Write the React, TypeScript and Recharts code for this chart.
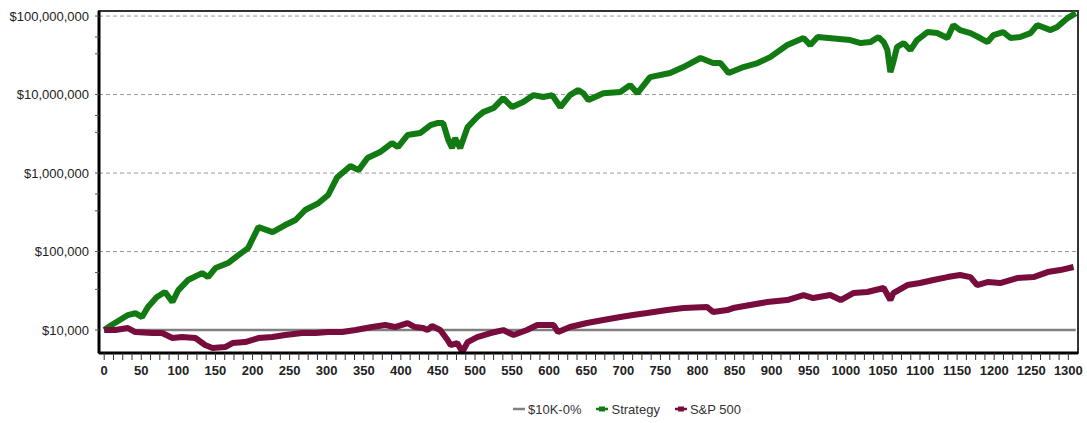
import { CartesianGrid, Legend, Line, LineChart, ReferenceArea, ReferenceLine, XAxis, YAxis } from "recharts"

// day index -> account value ($), read off the reference
const strategyX = [
  0, 10, 32, 42, 51, 59, 71, 82, 92, 100, 113, 132, 140, 150, 167, 181, 194, 208, 227, 244, 258, 271, 289,
  302, 314, 332, 343, 355, 372, 388, 396, 409, 426, 440, 449, 457, 464, 469, 473, 480, 490, 503, 511, 525,
  538, 550, 565, 579, 592, 604, 615, 628, 639, 646, 653, 673, 696, 709, 719, 736, 763, 781, 804, 821, 831,
  842, 862, 881, 898, 921, 943, 952, 962, 1006, 1020, 1033, 1044, 1051, 1056, 1060, 1064, 1069, 1078, 1087,
  1096, 1110, 1123, 1137, 1145, 1154, 1168, 1181, 1191, 1199, 1212, 1222, 1235, 1249, 1258, 1276, 1285,
  1299, 1310,
]
const strategyY = [
  10000, 11580, 15530, 16460, 14640, 19630, 26330, 30500, 22740, 32330, 43350, 53200, 47300, 61600, 71400,
  90200, 110800, 205000, 177000, 217600, 252000, 338000, 415000, 525000, 880000, 1230000, 1090000, 1553000,
  1850000, 2410000, 2140000, 3050000, 3230000, 4090000, 4340000, 4340000, 2630000, 2080000, 2790000,
  2080000, 3850000, 5170000, 5980000, 6730000, 9020000, 6930000, 8030000, 9850000, 9300000, 9850000,
  6930000, 9850000, 11400000, 10400000, 8500000, 10400000, 10800000, 13200000, 10400000, 16700000,
  18800000, 22400000, 29200000, 25200000, 25200000, 18800000, 22400000, 25200000, 30000000, 42700000,
  52500000, 42700000, 54000000, 49500000, 45300000, 46600000, 54000000, 46600000, 36900000, 19300000,
  25900000, 40300000, 45300000, 36900000, 49500000, 62600000, 60700000, 52500000, 76800000, 66300000,
  60700000, 52500000, 46700000, 57300000, 62600000, 52500000, 54000000, 60700000, 76800000, 66300000,
  72400000, 94300000, 109000000,
]

const spxX = [
  0, 15, 32, 42, 65, 78, 92, 105, 123, 136, 146, 163, 173, 190, 208, 227, 244, 267, 285, 302, 321, 339, 361,
  379, 392, 409, 419, 430, 436, 442, 453, 463, 467, 476, 483, 490, 503, 521, 538, 552, 570, 584, 606, 612,
  628, 651, 673, 696, 713, 732, 759, 781, 813, 821, 840, 848, 871, 894, 921, 943, 956, 979, 993, 1010, 1029,
  1051, 1060, 1064, 1083, 1100, 1118, 1137, 1154, 1168, 1177, 1191, 1208, 1231, 1253, 1272, 1289, 1307,
]
const spxY = [
  10000, 10000, 10600, 9430, 9160, 9160, 7910, 8140, 7910, 6440, 5900, 6070, 6830, 7030, 7910, 8140, 8640,
  9160, 9160, 9430, 9430, 10000, 10920, 11580, 10920, 12280, 10920, 10600, 10000, 11250, 10000, 7460, 6440,
  6830, 5250, 7030, 8140, 9160, 10000, 8640, 10000, 11580, 11580, 9430, 10920, 12280, 13410, 14640, 15530,
  16460, 17980, 19060, 19630, 16960, 17980, 19060, 20820, 22740, 24100, 27900, 25560, 27900, 24100, 29600,
  30500, 34300, 24100, 29600, 37400, 39700, 43350, 47300, 50200, 47300, 37400, 40900, 39700, 46000, 47300,
  54800, 58100, 63500,
]

const flatX = [0, 1310]
const flatY = [10000, 10000]

const xLabels = [0, 50, 100, 150, 200, 250, 300, 350, 400, 450, 500, 550, 600, 650, 700, 750, 800, 850, 900, 950, 1000, 1050, 1100, 1150, 1200, 1250, 1300]
const yLabels = [10000, 100000, 1000000, 10000000, 100000000]

const xTicks = xLabels.flatMap((v) => (v < 1300 ? [v, v + 12.5, v + 25, v + 37.5] : [v]))
const yTicks = yLabels.flatMap((v) => (v > 10000 ? [v * 0.33, v * 0.54, v] : [v]))

const toPoints = (xs: number[], ys: number[]) => xs.map((x, i) => ({ x, v: ys[i] }))

const seriesInfo = [
  { name: "$10K-0%", color: "#808080", marker: false },
  { name: "Strategy", color: "#127a12", marker: true },
  { name: "S&P 500", color: "#780c3c", marker: true },
]

const font = "'Liberation Sans', Arial, sans-serif"

function XTick({ x, y, payload }: any) {
  if (payload.value % 50 !== 0) return null
  return (
    <text x={x} y={y + 13} textAnchor="middle" fontSize={13} fontWeight="bold" fill="#222" fontFamily={font}>
      {payload.value}
    </text>
  )
}

function YTick({ x, y, payload }: any) {
  if (!yLabels.includes(payload.value)) return null
  return (
    <text x={x} y={y + 4.5} textAnchor="end" fontSize={13} fill="#222" fontFamily={font}>
      ${payload.value.toLocaleString("en-US")}
    </text>
  )
}

function LegendBox() {
  return (
    <div style={{ display: "flex", paddingLeft: 513, height: 22, alignItems: "center", fontFamily: font, fontSize: 13, color: "#333" }}>
      {seriesInfo.map((s) => (
        <div key={s.name} style={{ display: "flex", alignItems: "center", marginRight: 15 }}>
          <svg width={12} height={10} style={{ marginRight: 3 }}>
            <line x1={0} y1={5} x2={12} y2={5} stroke={s.color} strokeWidth={2.5} />
            {s.marker && <rect x={3} y={2.5} width={6} height={5} fill={s.color} />}
          </svg>
          <span>{s.name}</span>
        </div>
      ))}
    </div>
  )
}

export default function App() {
  return (
    <div style={{ position: "absolute", left: 0, top: 0, background: "#fff" }}>
      <LineChart width={1087} height={423} margin={{ top: 11, right: 9, left: 0, bottom: 3 }}>
        <CartesianGrid horizontal={false} vertical={false} />
        <XAxis
          dataKey="x"
          type="number"
          domain={[-7, 1313]}
          ticks={xTicks}
          interval={0}
          allowDataOverflow
          tick={<XTick />}
          tickSize={7}
          tickLine={{ stroke: "#333" }}
          axisLine={{ stroke: "#000", strokeWidth: 3 }}
          height={45}
        />
        <YAxis
          dataKey="v"
          scale="log"
          type="number"
          domain={[5100, 116000000]}
          ticks={yTicks}
          interval={0}
          allowDataOverflow
          tick={<YTick />}
          tickSize={4}
          tickMargin={6}
          tickLine={{ stroke: "#555" }}
          axisLine={{ stroke: "#000", strokeWidth: 3 }}
          width={99}
        />
        <ReferenceArea x1={-7} x2={1313} y1={5100} y2={116000000} fill="none" stroke="#333" strokeWidth={2} ifOverflow="visible" />
        {yLabels.slice(1).map((v) => (
          <ReferenceLine key={v} y={v} stroke="#999" strokeDasharray="4 3" />
        ))}
        <Legend verticalAlign="bottom" content={<LegendBox />} />
        <Line data={toPoints(flatX, flatY)} dataKey="v" name="$10K-0%" stroke="#808080" strokeWidth={2.5} dot={false} isAnimationActive={false} />
        <Line data={toPoints(strategyX, strategyY)} dataKey="v" name="Strategy" stroke="#127a12" strokeWidth={6} strokeLinejoin="bevel" dot={false} isAnimationActive={false} />
        <Line data={toPoints(spxX, spxY)} dataKey="v" name="S&P 500" stroke="#780c3c" strokeWidth={6} strokeLinejoin="bevel" dot={false} isAnimationActive={false} />
      </LineChart>
    </div>
  )
}
